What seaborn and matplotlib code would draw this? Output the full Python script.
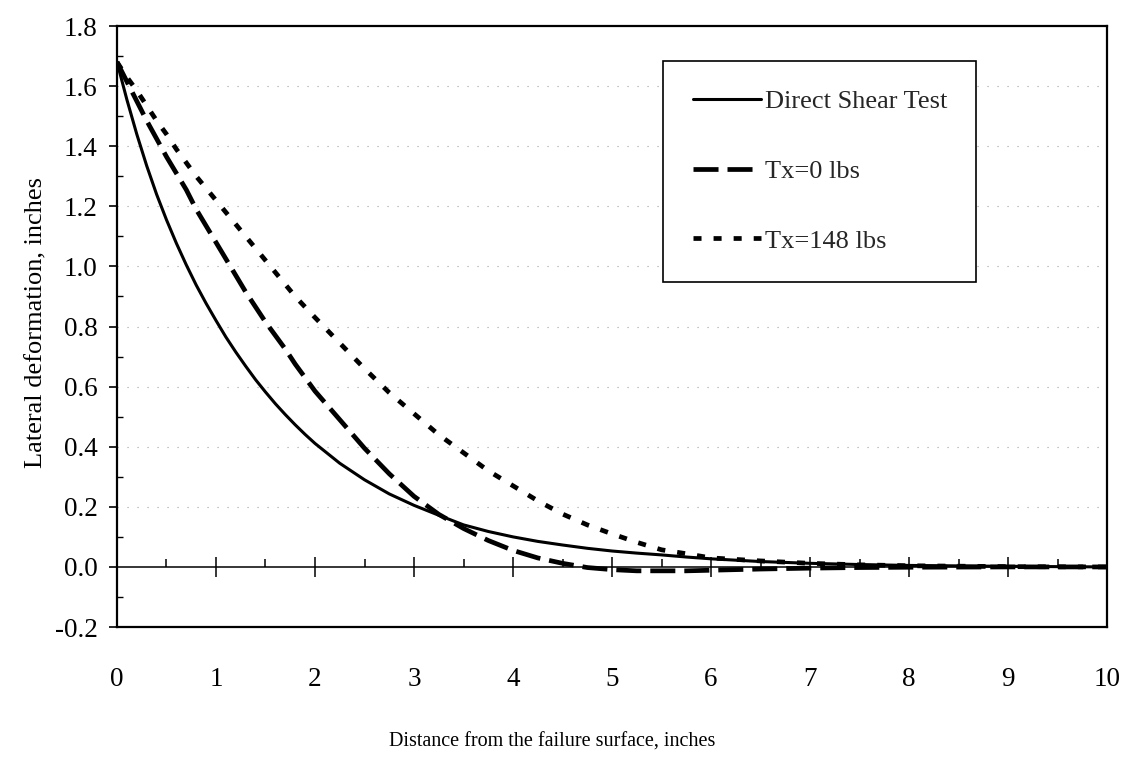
import matplotlib
matplotlib.use("Agg")
import matplotlib.pyplot as plt
from matplotlib.ticker import MultipleLocator, FormatStrFormatter
import pandas as pd
import seaborn as sns

# Distance from the failure surface (inches)
distance = [0.0, 0.1, 0.2, 0.3, 0.4, 0.5, 0.6, 0.7, 0.8, 0.9, 1.0,
            1.1, 1.2, 1.3, 1.4, 1.5, 1.6, 1.7, 1.8, 1.9, 2.0,
            2.25, 2.5, 2.75, 3.0, 3.25, 3.5, 3.75, 4.0, 4.25, 4.5, 4.75,
            5.0, 5.25, 5.5, 5.75, 6.0, 6.5, 7.0, 7.5, 8.0, 9.0, 10.0]

# Lateral deformation (inches) for each test
direct_shear = [1.68, 1.555, 1.44, 1.335, 1.24, 1.155, 1.077, 1.005, 0.938,
                0.877, 0.82, 0.765, 0.715, 0.668, 0.623, 0.582, 0.543, 0.507,
                0.473, 0.441, 0.411, 0.345, 0.29, 0.243, 0.205, 0.172, 0.140,
                0.118, 0.100, 0.085, 0.073, 0.062, 0.053, 0.046, 0.040, 0.033,
                0.027, 0.018, 0.012, 0.008, 0.005, 0.002, 0.0]
tx_0 = [1.68, 1.615, 1.55, 1.485, 1.425, 1.365, 1.31, 1.255, 1.19, 1.135,
        1.08, 1.025, 0.97, 0.915, 0.865, 0.815, 0.77, 0.725, 0.675, 0.63,
        0.585, 0.49, 0.395, 0.31, 0.235, 0.175, 0.128, 0.088, 0.055, 0.030,
        0.012, -0.002, -0.009, -0.013, -0.013, -0.013, -0.011, -0.007,
        -0.004, -0.002, -0.001, 0.0, 0.0]
tx_148 = [1.68, 1.63, 1.585, 1.535, 1.485, 1.44, 1.39, 1.345, 1.30, 1.26,
          1.22, 1.18, 1.14, 1.10, 1.06, 1.02, 0.98, 0.94, 0.90, 0.865, 0.83,
          0.745, 0.66, 0.58, 0.51, 0.44, 0.38, 0.32, 0.27, 0.22, 0.176, 0.14,
          0.11, 0.082, 0.057, 0.044, 0.030, 0.020, 0.012, 0.007, 0.004,
          0.001, 0.0]

series_names = ["Direct Shear Test", "Tx=0 lbs", "Tx=148 lbs"]
x_ticks = [0, 1, 2, 3, 4, 5, 6, 7, 8, 9, 10]

frames = []
for name, values in zip(series_names, [direct_shear, tx_0, tx_148]):
    frames.append(pd.DataFrame({"distance": distance,
                                "deformation": values,
                                "series": name}))
df = pd.concat(frames, ignore_index=True)

sns.set_theme(style="white")
plt.rcParams["font.family"] = ["Liberation Serif", "DejaVu Serif"]
plt.rcParams["axes.unicode_minus"] = False

fig = plt.figure(figsize=(11.38, 7.63), dpi=100)
ax = fig.add_axes([0.1028, 0.1782, 0.8700, 0.7877])

dash_styles = {"Direct Shear Test": "", "Tx=0 lbs": (5.3, 1.9),
               "Tx=148 lbs": (1.7, 2.55)}
sns.lineplot(data=df, x="distance", y="deformation", style="series",
             style_order=series_names, dashes=dash_styles, color="black",
             sort=False, estimator=None, legend=False, ax=ax)

widths = [2.2, 3.4, 3.4]
for line, lw in zip(ax.lines[:3], widths):
    line.set_linewidth(lw)
    line.set_dash_capstyle("butt")
    line.set_solid_joinstyle("round")

ymin, ymax = -0.2, 1.8
ax.set_xlim(0, 10)
ax.set_ylim(ymin, ymax)

# faint dotted horizontal gridlines
for yv in [0.2, 0.4, 0.6, 0.8, 1.0, 1.2, 1.4, 1.6]:
    ax.axhline(yv, color="#a0a0a0", lw=0.8, ls=(0, (1, 8)), zorder=0)

# zero line with crossing ticks
ax.axhline(0, color="black", lw=1.1, zorder=1)
zero_axis = ax.secondary_xaxis((0 - ymin) / (ymax - ymin))
zero_axis.spines["bottom"].set_visible(False)
zero_axis.set_xticks(x_ticks)
zero_axis.xaxis.set_minor_locator(MultipleLocator(0.5))
zero_axis.tick_params(axis="x", which="major", direction="inout", length=14,
                      width=1.1, color="black", labelbottom=False)
zero_axis.tick_params(axis="x", which="minor", direction="in", length=6,
                      width=1.1, color="black", labelbottom=False)

# x tick labels below the frame without tick marks
ax.set_xticks(x_ticks)
ax.set_xticklabels([str(t) for t in x_ticks])
ax.tick_params(axis="x", which="both", bottom=False, length=0, pad=29,
               labelsize=19.5, labelcolor="black")

ax.yaxis.set_major_locator(MultipleLocator(0.2))
ax.yaxis.set_minor_locator(MultipleLocator(0.1))
ax.yaxis.set_major_formatter(FormatStrFormatter("%.1f"))
ax.tick_params(axis="y", which="major", left=True, direction="out", length=6,
               width=1.2, color="black", pad=8, labelsize=19.5,
               labelcolor="black")
ax.tick_params(axis="y", which="minor", left=True, direction="in", length=4,
               width=1.0, color="black")

for side in ["left", "right", "top", "bottom"]:
    ax.spines[side].set_visible(True)
    ax.spines[side].set_color("black")
    ax.spines[side].set_linewidth(1.6)

ax.set_xlabel("Distance from the failure surface, inches", fontsize=14.5,
              color="black")
ax.set_ylabel("Lateral deformation, inches", fontsize=19, color="black")
ax.xaxis.set_label_coords(0.44, -0.176)
ax.yaxis.set_label_coords(-0.07, 0.507)

leg = ax.legend(handles=ax.lines[:3], labels=series_names, loc="upper left",
                bbox_to_anchor=(0.552, 0.942), borderaxespad=0,
                fontsize=19, handlelength=2.6, handletextpad=0.15,
                labelspacing=1.75, borderpad=1.1, frameon=True,
                fancybox=False, framealpha=1)
leg.get_frame().set_edgecolor("black")
leg.get_frame().set_linewidth(1.2)

fig.savefig("out.png", dpi=100, facecolor="white")
